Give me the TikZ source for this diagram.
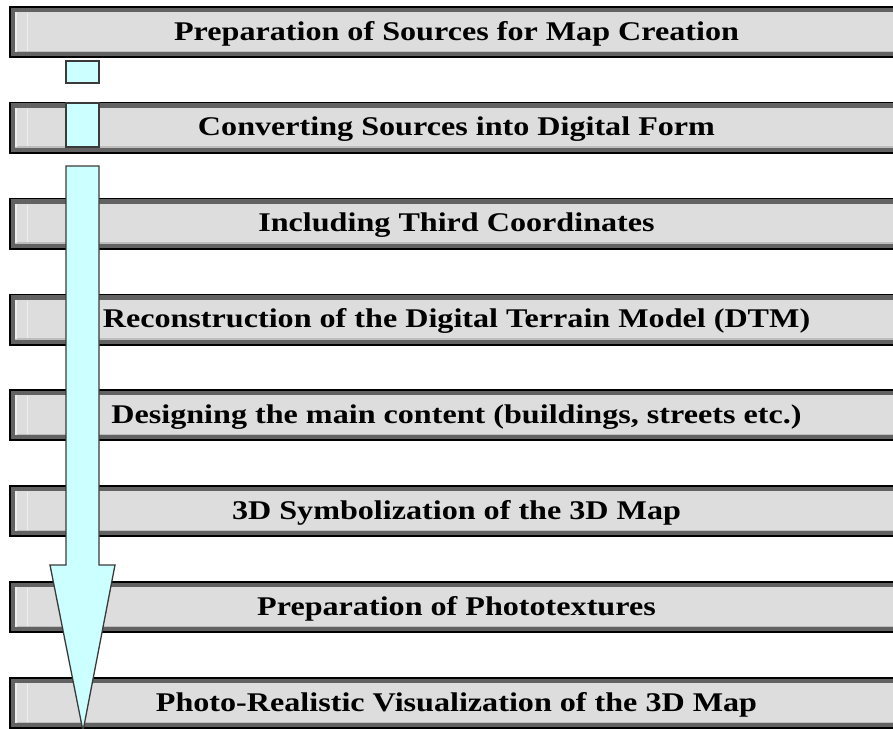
\documentclass[tikz,border=0pt]{standalone}
\usepackage{fontspec}
\setmainfont{Liberation Serif}

\definecolor{barface}{HTML}{DDDDDD}
\definecolor{barshade}{HTML}{626262}
\definecolor{barline}{HTML}{BDBDBD}
\definecolor{barlight}{HTML}{EEEEEE}
\definecolor{arrowfill}{HTML}{CCFFFF}
\definecolor{arrowedge}{HTML}{3A3A3A}

\tikzset{
  bartext/.style={anchor=base, inner sep=0pt, font=\bfseries\fontsize{27}{32}\selectfont},
  arrowpart/.style={fill=arrowfill, draw=arrowedge, line width=1.3pt, line join=miter}
}
\newcommand{\widetext}[1]{\scalebox{1.19}[1]{#1}}

\begin{document}
\begin{tikzpicture}[x=1pt, y=-1pt]

\useasboundingbox (0,0) rectangle (893,728);
\clip (0,0) rectangle (893,728);

% the eight step bars
\foreach \i/\txt in {
  1/{Preparation of Sources for Map Creation},
  2/{Converting Sources into Digital Form},
  3/{Including Third Coordinates},
  4/{Reconstruction of the Digital Terrain Model (DTM)},
  5/{Designing the main content (buildings, streets etc.)},
  6/{3D Symbolization of the 3D Map},
  7/{Preparation of Phototextures},
  8/{Photo-Realistic Visualization of the 3D Map}}{
  \pgfmathsetmacro{\bartop}{6+(\i-1)*95.86}
  \fill[black] (9,\bartop) rectangle (900,\bartop+52);
  \fill[barshade] (10.5,\bartop+1.5) rectangle (900,\bartop+50);
  \fill[barface] (15,\bartop+6) rectangle (900,\bartop+45.5);
  \fill[barline] (15,\bartop+44.5) rectangle (900,\bartop+46);
  \fill[barlight] (15,\bartop+6) rectangle (17,\bartop+45.5);
  \draw[barlight, line width=0.8pt] (27,\bartop+7) -- (27,\bartop+44.5);
  \node[bartext] (s\i) at (456.5,\bartop+34) {\widetext{\txt}};
}

% the arrow running down the steps
\draw[arrowpart] (66,61) rectangle (99,83);
\draw[arrowpart] (66,103) rectangle (99,147);
\draw[arrowpart] (66,166) -- (66,565) -- (50,565) -- (83,731)
  -- (115,565) -- (99,565) -- (99,166) -- cycle;

\end{tikzpicture}
\end{document}
